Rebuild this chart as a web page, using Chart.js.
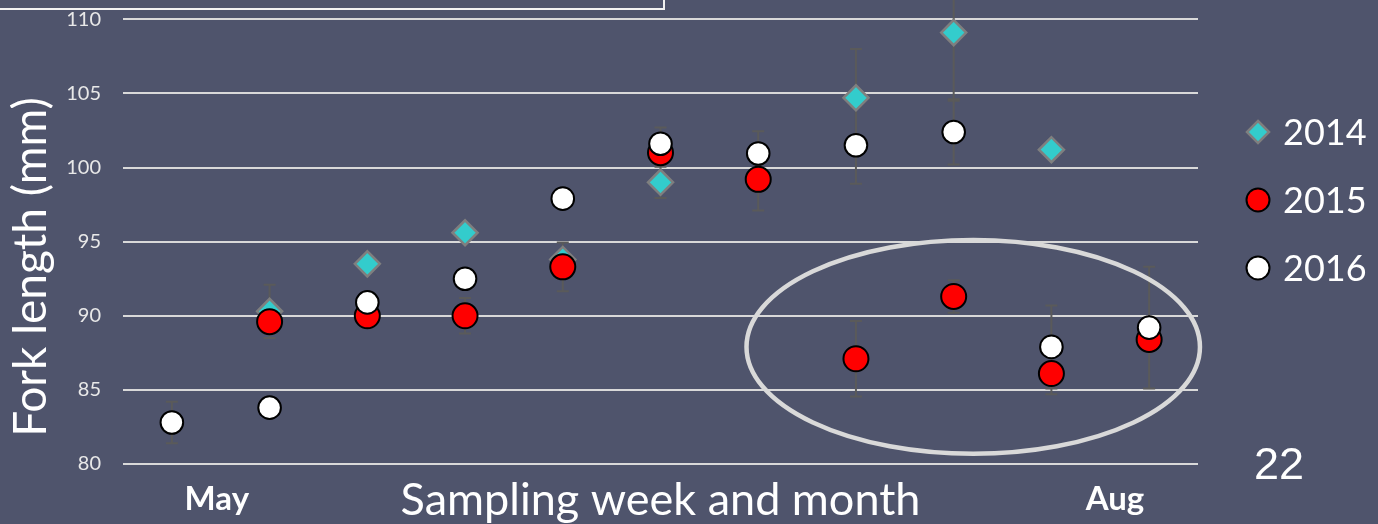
<!DOCTYPE html>
<html>
<head>
<meta charset="utf-8">
<script src="https://cdn.jsdelivr.net/npm/chart.js@4.4.0/dist/chart.umd.min.js"></script>
<style>
  html, body { margin: 0; padding: 0; background: #4F546C; overflow: hidden; }
  #wrap { position: relative; width: 1378px; height: 524px; }
  #caja { position: absolute; left: -10px; top: -50px; width: 671px; height: 56px; border: 2px solid #F2F2F2; }
</style>
</head>
<body>
<div id="wrap">
  <canvas id="myChart" width="1378" height="524"></canvas>
  <div id="caja"></div>
</div>
<script>
// semanas de muestreo
const semanas = [1, 2, 3, 4, 5, 6, 7, 8, 9, 10, 11];

// talla media (mm) por año
const talla2014 = [null, 90.3, 93.5, 95.6, 93.8, 99.0, null, 104.7, 109.1, 101.2, null];
const talla2015 = [null, 89.6, 90.0, 90.0, 93.3, 101.0, 99.2, 87.1, 91.3, 86.1, 88.4];
const talla2016 = [82.8, 83.8, 90.9, 92.5, 97.9, 101.6, 100.95, 101.5, 102.4, 87.9, 89.2];

// barras de error (+/- mm)
const error2014 = [null, 1.8, null, null, null, 1.05, null, 3.3, 4.6, null, null];
const error2015 = [null, null, null, 1.2, 1.65, null, 2.1, 2.55, 1.1, 1.4, null];
const error2016 = [1.4, null, null, null, null, 1.1, 1.5, 2.6, 2.2, 2.8, 4.1];

// etiquetas
const anos = ['2014', '2015', '2016'];
const meses = ['May', 'Aug'];
const posMeses = [1.46, 10.65];
const marcasY = [80, 85, 90, 95, 100, 105, 110];
const tituloX = 'Sampling week and month';
const tituloY = 'Fork length (mm)';
const numDiapo = '22';

// elipse que marca las ultimas semanas (en unidades de los ejes)
const elipse = { cx: 9.2, cy: 87.9, rx: 2.32, ry: 7.21 };

function puntos(valores) {
  return semanas.map((s, i) => ({ x: s, y: valores[i] }));
}

//dibuja las barras de error debajo de los puntos
const barrasError = {
  id: 'barrasError',
  beforeDatasetsDraw(chart) {
    const ctx = chart.ctx;
    const sx = chart.scales.x, sy = chart.scales.y;
    const area = chart.chartArea;
    ctx.save();
    ctx.beginPath();
    ctx.rect(area.left, area.top, area.right - area.left, area.bottom - area.top);
    ctx.clip();
    ctx.strokeStyle = '#5A5A5A';
    ctx.lineWidth = 2;
    chart.data.datasets.forEach(ds => {
      ds.errores.forEach((e, i) => {
        const v = ds.valores[i];
        if (e == null || v == null) return;
        const px = sx.getPixelForValue(semanas[i]);
        const arriba = sy.getPixelForValue(v + e);
        const abajo = sy.getPixelForValue(v - e);
        ctx.beginPath();
        ctx.moveTo(px, arriba); ctx.lineTo(px, abajo);
        ctx.moveTo(px - 6, arriba); ctx.lineTo(px + 6, arriba);
        ctx.moveTo(px - 6, abajo); ctx.lineTo(px + 6, abajo);
        ctx.stroke();
      });
    });
    ctx.restore();
  }
};

//titulos, leyenda, elipse y numero de diapositiva
const extras = {
  id: 'extras',
  afterDraw(chart) {
    const ctx = chart.ctx;
    const sx = chart.scales.x, sy = chart.scales.y;
    const area = chart.chartArea;
    ctx.save();

    // elipse
    const ex = sx.getPixelForValue(elipse.cx);
    const ey = sy.getPixelForValue(elipse.cy);
    const erx = sx.getPixelForValue(elipse.cx + elipse.rx) - ex;
    const ery = ey - sy.getPixelForValue(elipse.cy + elipse.ry);
    ctx.beginPath();
    ctx.ellipse(ex, ey, erx, ery, 0, 0, Math.PI * 2);
    ctx.strokeStyle = '#D9D9D9';
    ctx.lineWidth = 4.5;
    ctx.stroke();

    ctx.fillStyle = '#FFFFFF';

    // titulo eje x
    ctx.font = '45px Lato';
    ctx.textAlign = 'center';
    ctx.textBaseline = 'alphabetic';
    ctx.fillText(tituloX, (area.left + area.right) / 2, 515);

    // titulo eje y
    ctx.save();
    ctx.translate(31, 267);
    ctx.rotate(-Math.PI / 2);
    ctx.font = '46px Lato';
    ctx.textBaseline = 'middle';
    ctx.fillText(tituloY, 0, 0);
    ctx.restore();

    // leyenda
    const lx = area.right + 60;
    chart.data.datasets.slice().sort((a, b) => a.label.localeCompare(b.label)).forEach((ds, k) => {
      const ly = 132 + k * 68;
      ctx.beginPath();
      if (ds.pointStyle === 'rectRot') {
        const r = 11;
        ctx.moveTo(lx, ly - r); ctx.lineTo(lx + r, ly); ctx.lineTo(lx, ly + r); ctx.lineTo(lx - r, ly);
        ctx.closePath();
      } else {
        ctx.arc(lx, ly, 11.5, 0, Math.PI * 2);
      }
      ctx.fillStyle = ds.backgroundColor;
      ctx.fill();
      ctx.strokeStyle = ds.borderColor;
      ctx.lineWidth = ds.borderWidth;
      ctx.stroke();
      ctx.fillStyle = '#FFFFFF';
      ctx.font = '36px Lato';
      ctx.textAlign = 'left';
      ctx.textBaseline = 'middle';
      ctx.fillText(ds.label, lx + 25, ly + 1);
    });

    // numero de diapositiva
    ctx.font = '45px "Liberation Sans"';
    ctx.textAlign = 'left';
    ctx.textBaseline = 'alphabetic';
    ctx.fillText(numDiapo, 1254, 479);

    ctx.restore();
  }
};

const ctx = document.querySelector('#myChart').getContext('2d');

const chart = new Chart(ctx, {
  type: 'scatter',
  data: {
    datasets: [
      {
        label: anos[0],
        data: puntos(talla2014),
        valores: talla2014,
        errores: error2014,
        pointStyle: 'rectRot',
        pointRadius: 12.5,
        backgroundColor: '#33CCCC',
        borderColor: '#7F7F7F',
        borderWidth: 2.5,
        order: 3
      },
      {
        label: anos[1],
        data: puntos(talla2015),
        valores: talla2015,
        errores: error2015,
        pointStyle: 'circle',
        pointRadius: 12.5,
        backgroundColor: '#FF0000',
        borderColor: '#000000',
        borderWidth: 2,
        order: 2
      },
      {
        label: anos[2],
        data: puntos(talla2016),
        valores: talla2016,
        errores: error2016,
        pointStyle: 'circle',
        pointRadius: 11.3,
        backgroundColor: '#FFFFFF',
        borderColor: '#000000',
        borderWidth: 2,
        order: 1
      }
    ]
  },
  options: {
    responsive: false,
    animation: false,
    events: [],
    layout: { autoPadding: false, padding: { left: 0, right: 180, top: 0, bottom: 0 } },
    plugins: {
      legend: { display: false },
      tooltip: { enabled: false }
    },
    scales: {
      x: {
        type: 'linear',
        min: 0.5,
        max: 11.5,
        afterBuildTicks: s => { s.ticks = posMeses.map(v => ({ value: v })); },
        afterFit: s => { s.height = 60; s.paddingLeft = 0; s.paddingRight = 0; },
        grid: { display: false },
        border: { display: false },
        ticks: {
          color: '#FFFFFF',
          font: { family: 'Lato', size: 33, weight: 'bold' },
          padding: 8,
          maxRotation: 0,
          autoSkip: false,
          callback: (v, i) => meses[i]
        }
      },
      y: {
        min: 80,
        max: 111.3,
        afterBuildTicks: s => { s.ticks = marcasY.map(v => ({ value: v })); },
        afterFit: s => { s.width = 123; s.paddingTop = 0; s.paddingBottom = 0; },
        grid: { color: '#D9D9D9', lineWidth: 2, drawTicks: false },
        border: { display: false },
        ticks: {
          color: '#E8E8E8',
          font: { family: 'Lato', size: 20 },
          padding: 22
        }
      }
    }
  },
  plugins: [barrasError, extras]
});
</script>
</body>
</html>
